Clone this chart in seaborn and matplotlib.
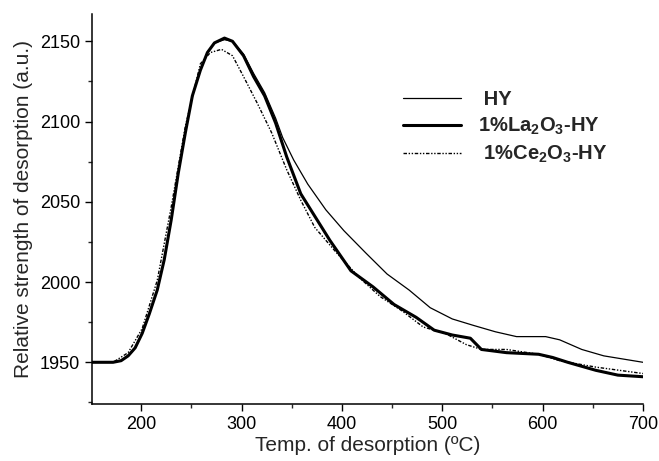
import matplotlib
matplotlib.use("Agg")
import matplotlib.pyplot as plt
import seaborn as sns
import pandas as pd
from matplotlib.ticker import MultipleLocator
from matplotlib.lines import Line2D

# ---- data ----
la_x = [151, 172, 180, 187, 194, 201, 208, 216, 223, 230, 237, 244, 251, 259, 266, 273, 283,
        291, 302, 312, 323, 334, 345, 359, 373, 388, 409, 431, 452, 474, 492, 510, 528, 539,
        564, 596, 610, 625, 653, 675, 700]
la_y = [1950, 1950, 1951, 1954, 1959, 1968, 1980, 1995, 2014, 2039, 2068, 2093, 2116, 2132, 2143, 2149, 2152,
        2150, 2141, 2128, 2116, 2099, 2078, 2055, 2041, 2026, 2007, 1997, 1986, 1978, 1970, 1967, 1965, 1958,
        1956, 1955, 1953, 1950, 1945, 1942, 1941]

hy_x = [151, 172, 180, 187, 194, 201, 208, 216, 223, 230, 237, 244, 251, 259, 266, 273, 283,
        291, 302, 312, 323, 334, 341, 352, 366, 384, 402, 424, 445, 467, 488, 510, 531, 553,
        574, 603, 617, 639, 661, 700]
hy_y = [1950, 1950, 1951, 1954, 1959, 1968, 1980, 1995, 2014, 2039, 2068, 2093, 2116, 2132, 2143, 2149, 2151,
        2150, 2142, 2130, 2118, 2102, 2090, 2076, 2061, 2045, 2032, 2018, 2005, 1995, 1984, 1977, 1973, 1969,
        1966, 1966, 1964, 1958, 1954, 1950]

ce_x = [151, 172, 187, 201, 216, 230, 244, 259, 269, 280, 291, 302, 316, 330, 345, 359, 373, 395,
        417, 438, 460, 481, 503, 524, 539, 564, 596, 617, 653, 700]
ce_y = [1950, 1950, 1956, 1971, 2001, 2047, 2097, 2136, 2143, 2145, 2141, 2128, 2111, 2093, 2070, 2051, 2034, 2018,
        2003, 1991, 1982, 1972, 1968, 1961, 1958, 1958, 1955, 1951, 1947, 1943]

labels = [" HY", r"1%La$_\mathbf{2}$O$_\mathbf{3}$-HY", r" 1%Ce$_\mathbf{2}$O$_\mathbf{3}$-HY"]
x_ticks = [200, 300, 400, 500, 600, 700]
y_ticks = [1950, 2000, 2050, 2100, 2150]

sns.set_style("ticks")
plt.rcParams["font.family"] = ["Liberation Sans", "DejaVu Sans"]
plt.rcParams["mathtext.fontset"] = "custom"
plt.rcParams["mathtext.rm"] = "Liberation Sans"
plt.rcParams["mathtext.bf"] = "Liberation Sans:bold"

fig = plt.figure(figsize=(6.59, 4.61), dpi=100)
ax = fig.add_axes([0.1396, 0.1236, 0.8361, 0.846])

df_hy = pd.DataFrame({"T": hy_x, "S": hy_y})
df_la = pd.DataFrame({"T": la_x, "S": la_y})
df_ce = pd.DataFrame({"T": ce_x, "S": ce_y})

sns.lineplot(data=df_hy, x="T", y="S", ax=ax, color="black", linewidth=0.9)
sns.lineplot(data=df_la, x="T", y="S", ax=ax, color="black", linewidth=2.2)
sns.lineplot(data=df_ce, x="T", y="S", ax=ax, color="black", linewidth=1.0,
             dashes=False)
ax.lines[2].set_dashes([2.5, 1.2, 1, 1.2, 1, 1.2])

ax.set_xlim(151, 700)
ax.set_ylim(1924, 2167)
ax.set_xticks(x_ticks)
ax.set_yticks(y_ticks)
ax.xaxis.set_minor_locator(MultipleLocator(50))
ax.yaxis.set_minor_locator(MultipleLocator(25))
ax.tick_params(which="major", direction="out", length=5, width=1, labelsize=13, colors="black")
ax.tick_params(which="minor", direction="out", length=3, width=1)
for s in ["top", "right"]:
    ax.spines[s].set_visible(False)
for s in ["left", "bottom"]:
    ax.spines[s].set_linewidth(1.1)
    ax.spines[s].set_color("black")

ax.set_xlabel("Temp. of desorption (\u00baC)", fontsize=15, labelpad=2)
ax.set_ylabel("Relative strength of desorption (a.u.)", fontsize=15, labelpad=5)

handles = [Line2D([], [], color="black", lw=0.9),
           Line2D([], [], color="black", lw=2.2),
           Line2D([], [], color="black", lw=1.0, dashes=[2.5, 1.2, 1, 1.2, 1, 1.2])]
ax.legend(handles, labels, loc="upper left", bbox_to_anchor=(0.564, 0.806),
          frameon=False, handlelength=2.9, handletextpad=0.85, labelspacing=0.35,
          borderpad=0, borderaxespad=0,
          prop={"family": "Liberation Sans", "weight": "bold", "size": 14.5})

fig.savefig("out.png", dpi=100)
